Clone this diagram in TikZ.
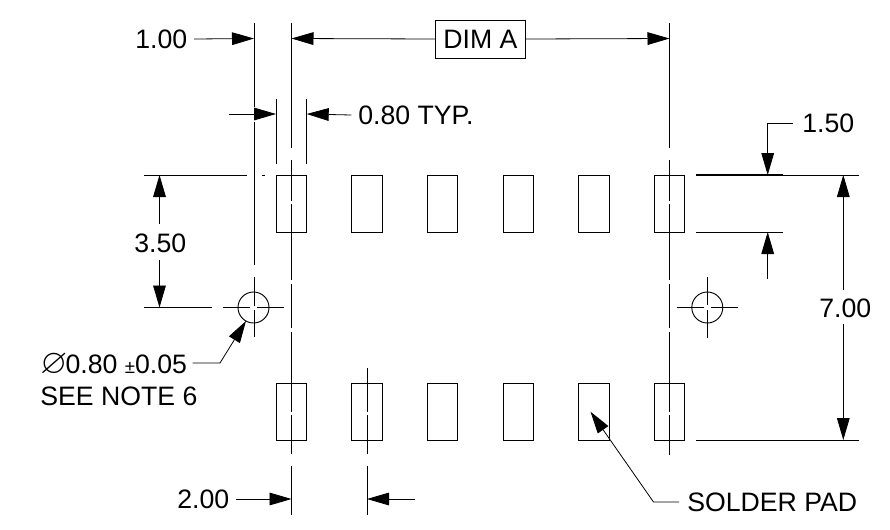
\documentclass[tikz,border=0pt]{standalone}
\usepackage{amssymb}
\usepackage{fontspec}
\setmainfont{Liberation Sans}
\usetikzlibrary{arrows.meta}
\tikzset{
	dimline/.style={line width=0.6pt},
	dimtip/.style={dimline,-{Triangle[length=16.5pt,width=9.5pt]}},
	padbox/.style={line width=0.7pt},
	lbl/.style={inner sep=0pt,anchor=west,font=\fontsize{20}{24}\selectfont}
}
\begin{document}
\begin{tikzpicture}[x=0.75pt,y=-0.75pt]
\useasboundingbox (0,0) rectangle (890,529);

% pads
\foreach \x in {276,351.5,427,503,578.5,654} {
	\draw [padbox] (\x,175) rectangle ++(30.7,57);
	\draw [padbox] (\x,383) rectangle ++(30.7,57);
}

% center lines
\foreach \x / \yend in {291.5/454,669.5/455} {
	\draw [dimline] (\x,23) -- (\x,148);
	\draw [dimline] (\x,160) -- (\x,201);
	\draw [dimline] (\x,204) -- (\x,280);
	\draw [dimline] (\x,284) -- (\x,328);
	\draw [dimline] (\x,332) -- (\x,412);
	\draw [dimline] (\x,415) -- (\x,\yend);
}
\draw [dimline] (291.5,466) -- (291.5,515);
\draw [dimline] (367,368) -- (367,412);
\draw [dimline] (367,415) -- (367,454);
\draw [dimline] (367,466) -- (367,515);
\draw [dimline] (254,23) -- (254,107);
\draw [dimline] (254,122) -- (254,265);
\draw [dimline] (254,277) -- (254,305.5);
\draw [dimline] (254,309.5) -- (254,337);
\foreach \x in {276,306.7}
	\draw [dimline] (\x,99) -- (\x,164);

% holes
\draw [padbox] (253.5,307.5) circle (15.5);
\draw [dimline] (222.7,307.5) -- (250,307.5);
\draw [dimline] (257,307.5) -- (284,307.5);
\draw [padbox] (707.3,307.5) circle (15.5);
\draw [dimline] (677,307.5) -- (704,307.5);
\draw [dimline] (711,307.5) -- (738,307.5);
\draw [dimline] (707.3,277) -- (707.3,305);
\draw [dimline] (707.3,310) -- (707.3,338);

% extension lines
\draw [dimline] (144,175) -- (247,175);
\draw [dimline] (262,175) -- (265,175);
\draw [dimline] (144,307.5) -- (212,307.5);
\draw [line width=0.9pt] (696,175) -- (783,175);
\draw [dimline] (783,175) -- (859,175);
\draw [dimline] (696,232) -- (783,232);
\draw [dimline] (696,440) -- (859,440);

% labels
\node [lbl] (dimone) at (135,39) {1.00};
\node [draw,line width=0.6pt,inner sep=0pt,minimum width=68pt,minimum height=28.5pt,font=\fontsize{20}{24}\selectfont] (dima) at (480.5,39) {DIM A};
\node [lbl] (padwidth) at (358,115) {0.80 TYP.};
\node [lbl] (halfpitch) at (134,243) {3.50};
\node [lbl] (padlen) at (802,123) {1.50};
\node [lbl] (rowgap) at (819,308) {7.00};
\node [lbl,anchor=base west] (holedia) at (40,373) {\makebox[19pt][l]{\scalebox{1.3}{$\varnothing$}}0.80 {\fontsize{14}{16}\selectfont ±}0.05};
\node [lbl,anchor=base west] (holenote) at (40,405) {SEE NOTE 6};
\node [lbl] (pitch) at (177,499) {2.00};
\node [lbl] (solder) at (687,502) {SOLDER PAD};

% dimension arrows
\draw [dimtip] ([xshift=5pt]dimone.east) -- (254,38.5);
\draw [dimtip] (dima.west) -- (291.5,38.5);
\draw [dimtip] (dima.east) -- (669.5,38.5);
\draw [dimtip] (229,114) -- (276,114);
\draw [dimtip] ([xshift=-5pt]padwidth.west) -- (306.7,114);
\draw [dimtip] (159.5,224) -- (159.5,175);
\draw [dimtip] (159.5,260) -- (159.5,307.5);
\draw [dimtip] ([xshift=-7pt]padlen.west) -- (767.7,123) -- (767.7,175);
\draw [dimtip] (767.7,279) -- (767.7,232);
\draw [dimtip] (843.3,290) -- (843.3,175);
\draw [dimtip] (843.3,324) -- (843.3,440);
\draw [dimtip] ([xshift=4pt]holedia.east |- 0,363) -- (220,363) -- (246,321);
\draw [dimtip] ([xshift=5pt]pitch.east) -- (291.5,499);
\draw [dimtip] (415,499) -- (367,499);
\draw [dimtip] ([xshift=-6pt]solder.west) -- (653.5,502) -- (590.5,411.7);
\end{tikzpicture}
\end{document}
